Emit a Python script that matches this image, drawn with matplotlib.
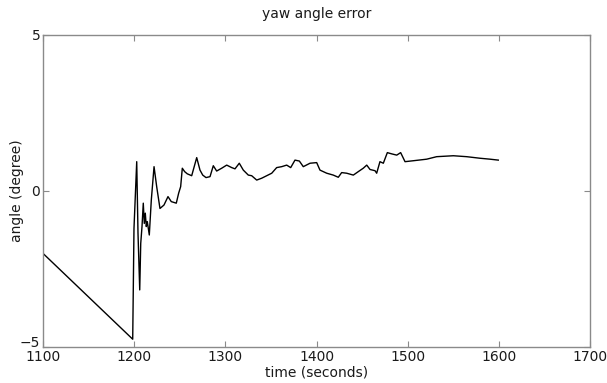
import matplotlib
matplotlib.use('Agg')
from matplotlib import pyplot as plt

# yaw error samples (time in seconds, error in degrees)
time_s = [1100, 1198.4, 1199.8, 1202.8, 1204.2, 1206.1, 1207.2, 1208.6, 1210.0,
          1211.1, 1212.2, 1213.3, 1214.4, 1216.6, 1218.8, 1221.8, 1224.7, 1228.3,
          1232.7, 1237.1, 1240.7, 1246.2, 1248.8, 1251.0, 1252.8, 1255.4, 1258.3,
          1263.1, 1268.6, 1272.2, 1275.2, 1278.8, 1283.2, 1286.8, 1290.5, 1296.0,
          1301.5, 1307.0, 1310.6, 1315.3, 1319.7, 1325.2, 1328.9, 1334.4, 1339.9,
          1345.4, 1350.9, 1356.3, 1361.8, 1367.3, 1371.7, 1376.4, 1381.2, 1385.5,
          1392.9, 1400.2, 1403.8, 1411.2, 1418.4, 1423.9, 1427.6, 1433.1, 1440.4,
          1445.8, 1451.3, 1455.1, 1458.7, 1464.2, 1466.0, 1469.6, 1473.3, 1477.7,
          1482.5, 1488.0, 1492.3, 1497.1, 1506.2, 1520.9, 1531.8, 1550.1, 1564.7,
          1579.3, 1590.3, 1599.4]
yaw_err = [-2.0, -4.75, -1.2, 0.94, -1.35, -3.17, -1.68, -1.14, -0.39,
           -1.04, -0.71, -1.14, -0.98, -1.41, -0.29, 0.78, 0.14, -0.56,
           -0.45, -0.18, -0.34, -0.39, -0.07, 0.14, 0.73, 0.62, 0.55,
           0.49, 1.07, 0.67, 0.51, 0.43, 0.46, 0.81, 0.64, 0.73,
           0.83, 0.75, 0.71, 0.89, 0.67, 0.51, 0.49, 0.35, 0.41,
           0.49, 0.57, 0.75, 0.78, 0.83, 0.75, 0.99, 0.96, 0.78,
           0.89, 0.91, 0.67, 0.57, 0.51, 0.44, 0.59, 0.57, 0.51,
           0.62, 0.73, 0.83, 0.69, 0.65, 0.57, 0.94, 0.89, 1.23,
           1.19, 1.15, 1.23, 0.94, 0.97, 1.02, 1.10, 1.13, 1.10,
           1.05, 1.02, 0.99]

x_ticks = [1100, 1200, 1300, 1400, 1500, 1600, 1700]
y_ticks = [-5, 0, 5]

fig = plt.figure(figsize=(6.07, 3.83), dpi=100, facecolor='white')
ax = fig.add_axes([43/607, 1 - 347/383, 547/607, 312/383])

ax.plot(time_s, yaw_err, color='k', lw=1.0)

ax.set_xlim(1100, 1700)
ax.set_ylim(-5, 5)
ax.set_xticks(x_ticks)
ax.set_yticks(y_ticks)

for s in ax.spines.values():
    s.set_color('#8a8a8a')
    s.set_linewidth(1.0)
ax.tick_params(direction='in', top=True, right=True, length=4, width=0.8,
               color='#8a8a8a', labelsize=10, labelcolor='#1a1a1a', pad=2)
# bottom y label sits a little higher, as in MATLAB figures
ax.get_yticklabels()[0].set_va('baseline')

ax.set_title('yaw angle error', fontsize=10, color='#1a1a1a', pad=12)
ax.set_xlabel('time (seconds)', fontsize=10, color='#1a1a1a', labelpad=1)
ax.set_ylabel('angle (degree)', fontsize=10, color='#1a1a1a', labelpad=-3)

plt.savefig('out.png', dpi=100)
